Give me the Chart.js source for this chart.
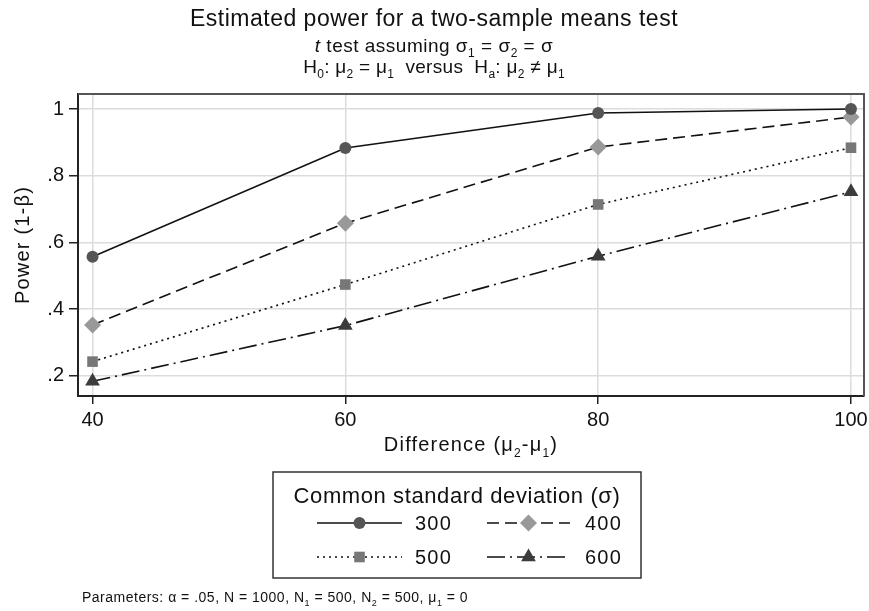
<!DOCTYPE html>
<html>
<head>
<meta charset="utf-8">
<title>Estimated power for a two-sample means test</title>
<script src="https://cdn.jsdelivr.net/npm/chart.js"></script>
<style>
  html, body { margin: 0; padding: 0; background: #fff; }
  #wrap { width: 869px; height: 611px; }
</style>
</head>
<body>
<div id="wrap"><canvas id="chart1" width="869" height="611"></canvas></div>
<script>
// values
const differences = [40, 60, 80, 100];
const sigmas = ['300', '400', '500', '600'];
const power300 = [0.557, 0.883, 0.988, 1.0];
const power400 = [0.353, 0.658, 0.886, 0.976];
const power500 = [0.243, 0.474, 0.714, 0.884];
const power600 = [0.184, 0.351, 0.559, 0.752];
const xTicks = [40, 60, 80, 100];
const yTicks = [0.2, 0.4, 0.6, 0.8, 1];

const FONT = "'Liberation Sans', Arial, Helvetica, sans-serif";
const ctx1 = document.getElementById('chart1').getContext('2d');

// parse "~t~ test σ_1" : ~..~ italic, _x subscript
function parseRich(str) {
  const parts = [];
  let italic = false;
  let buf = '';
  for (let i = 0; i < str.length; i++) {
    const c = str[i];
    if (c === '~') {
      if (buf) parts.push({ t: buf, it: italic });
      buf = '';
      italic = !italic;
    } else if (c === '_') {
      if (buf) parts.push({ t: buf, it: italic });
      buf = '';
      parts.push({ t: str[i + 1], sub: true });
      i++;
    } else {
      buf += c;
    }
  }
  if (buf) parts.push({ t: buf, it: italic });
  return parts;
}

function partFont(p, size) {
  const s = p.sub ? Math.round(size * 0.62) : size;
  return (p.it ? 'italic ' : '') + s + 'px ' + FONT;
}

function drawRich(ctx, str, x, y, size, align, spacing) {
  const parts = parseRich(str);
  ctx.letterSpacing = (spacing || 0) + 'px';
  let w = 0;
  parts.forEach(p => { ctx.font = partFont(p, size); w += ctx.measureText(p.t).width; });
  let cx = align === 'left' ? x : x - w / 2;
  ctx.textAlign = 'left';
  ctx.textBaseline = 'alphabetic';
  parts.forEach(p => {
    ctx.font = partFont(p, size);
    ctx.fillText(p.t, cx, p.sub ? y + size * 0.28 : y);
    cx += ctx.measureText(p.t).width;
  });
  ctx.letterSpacing = '0px';
}

function drawMarker(ctx, style, x, y, r, color) {
  ctx.save();
  ctx.fillStyle = color;
  ctx.beginPath();
  if (style === 'circle') {
    ctx.arc(x, y, r, 0, Math.PI * 2);
  } else if (style === 'rectRot') {
    ctx.moveTo(x, y - r); ctx.lineTo(x + r, y); ctx.lineTo(x, y + r); ctx.lineTo(x - r, y);
  } else if (style === 'rect') {
    const s = r * Math.SQRT1_2;
    ctx.rect(x - s, y - s, 2 * s, 2 * s);
  } else if (style === 'triangle') {
    const h = r * 1.5, half = r * Math.sqrt(3) / 2;
    ctx.moveTo(x, y - r); ctx.lineTo(x + half, y - r + h); ctx.lineTo(x - half, y - r + h);
  }
  ctx.closePath();
  ctx.fill();
  ctx.restore();
}

const decorations = {
  id: 'decorations',
  afterDraw(chart) {
    const ctx = chart.ctx;
    const a = chart.chartArea;
    ctx.save();
    ctx.fillStyle = '#111';

    // plot region frame (top and right)
    ctx.strokeStyle = '#555';
    ctx.lineWidth = 2;
    ctx.beginPath();
    ctx.moveTo(a.left, a.top); ctx.lineTo(a.right, a.top); ctx.lineTo(a.right, a.bottom);
    ctx.stroke();

    // titles
    drawRich(ctx, 'Estimated power for a two-sample means test', 434, 26, 23, 'center', 0.5);
    drawRich(ctx, '~t~ test assuming σ_1 = σ_2 = σ', 434, 52, 19, 'center', 0.5);
    drawRich(ctx, 'H_0: μ_2 = μ_1  versus  H_a: μ_2 ≠ μ_1', 434, 73, 19, 'center', 0.3);

    // axis titles
    drawRich(ctx, 'Difference (μ_2-μ_1)', (a.left + a.right) / 2, 451, 20, 'center', 1.2);
    ctx.save();
    ctx.translate(22, (a.top + a.bottom) / 2);
    ctx.rotate(-Math.PI / 2);
    drawRich(ctx, 'Power (1-β)', 0, 7, 20, 'center', 1.2);
    ctx.restore();

    // legend box
    ctx.strokeStyle = '#333';
    ctx.lineWidth = 1.5;
    ctx.strokeRect(273, 472, 368, 106);
    drawRich(ctx, 'Common standard deviation (σ)', 457, 503, 22, 'center', 0.6);
    const cols = [{ x0: 317, x1: 402, tx: 415 }, { x0: 487, x1: 570, tx: 585 }];
    const rows = [523, 557];
    chart.data.datasets.forEach((ds, i) => {
      const c = cols[i % 2], y = rows[Math.floor(i / 2)];
      ctx.save();
      ctx.strokeStyle = ds.borderColor;
      ctx.lineWidth = ds.borderWidth;
      ctx.setLineDash(ds.borderDash || []);
      ctx.beginPath(); ctx.moveTo(c.x0, y); ctx.lineTo(c.x1, y); ctx.stroke();
      ctx.restore();
      drawMarker(ctx, ds.pointStyle, (c.x0 + c.x1) / 2, y, ds.pointRadius, ds.pointBackgroundColor);
      ctx.fillStyle = '#111';
      drawRich(ctx, ds.label, c.tx, y + 7, 20, 'left', 1.2);
    });

    // note
    drawRich(ctx, 'Parameters: α = .05, N = 1000, N_1 = 500, N_2 = 500, μ_1 = 0', 82, 602, 14, 'left', 0.5);
    ctx.restore();
  }
};

function series(label, values, style, radius, color, dash) {
  return {
    label: label,
    data: differences.map((d, i) => ({ x: d, y: values[i] })),
    borderColor: '#111',
    borderWidth: 1.6,
    borderDash: dash,
    pointStyle: style,
    pointRadius: radius,
    pointHoverRadius: radius,
    pointBackgroundColor: color,
    pointBorderColor: color,
    pointBorderWidth: 0,
    tension: 0,
  };
}

new Chart(ctx1, {
  type: 'line',
  data: {
    datasets: [
      series(sigmas[0], power300, 'circle', 6, '#555', []),
      series(sigmas[1], power400, 'rectRot', 8.5, '#999', [12, 6]),
      series(sigmas[2], power500, 'rect', 7.5, '#777', [2, 4]),
      series(sigmas[3], power600, 'triangle', 8.5, '#3c3c3c', [18, 5, 2, 5]),
    ],
  },
  options: {
    responsive: false,
    animation: false,
    layout: { autoPadding: false, padding: { top: 94, right: 5, bottom: 160, left: 0 } },
    plugins: { legend: { display: false }, title: { display: false }, tooltip: { enabled: false } },
    scales: {
      x: {
        type: 'linear',
        min: 38.85,
        max: 101.03,
        afterBuildTicks: (s) => { s.ticks = xTicks.map(v => ({ value: v })); },
        afterFit: (s) => { s.height = 55; s.paddingLeft = 0; s.paddingRight = 0; },
        grid: { color: '#dcdcdc', lineWidth: 1.5, tickLength: 8, tickColor: '#222', tickWidth: 1.5 },
        border: { display: true, color: '#222', width: 2 },
        ticks: { color: '#111', padding: 4, maxRotation: 0, font: { family: FONT, size: 20 } },
      },
      y: {
        min: 0.14,
        max: 1.045,
        afterBuildTicks: (s) => { s.ticks = yTicks.map(v => ({ value: v })); },
        afterFit: (s) => { s.width = 78; s.paddingTop = 0; s.paddingBottom = 0; },
        grid: { color: '#dcdcdc', lineWidth: 1.5, tickLength: 9, tickColor: '#222', tickWidth: 1.5 },
        border: { display: true, color: '#222', width: 2 },
        ticks: {
          color: '#111',
          padding: 5,
          font: { family: FONT, size: 20 },
          callback: (v) => (v === 1 ? '1' : v.toFixed(1).replace(/^0/, '')),
        },
      },
    },
  },
  plugins: [decorations],
});
</script>
</body>
</html>
